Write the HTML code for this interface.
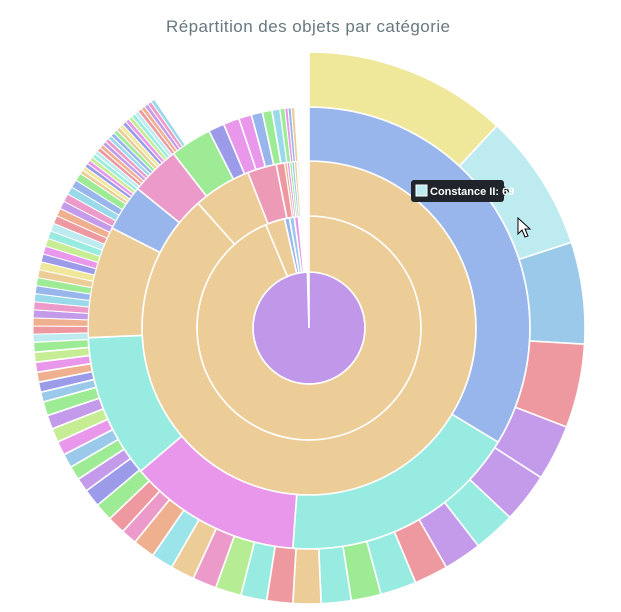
<!DOCTYPE html>
<html><head><meta charset="utf-8">
<style>
body{margin:0;background:#fff;}
svg{display:block;font-family:"Liberation Sans",sans-serif;}
</style></head>
<body>
<svg id="chart" width="621" height="612" viewBox="0 0 621 612">
<text x="308" y="32" text-anchor="middle" font-size="17" fill="#66787f" textLength="284">Répartition des objets par catégorie</text>
<g id="rings"></g>
<g>
<rect x="411" y="180" width="93" height="22" rx="3" fill="#1f252b"/>
<polygon points="504,186 510,191 504,196" fill="#1f252b"/>
<rect x="416" y="185" width="11" height="11" fill="#bdebf0" stroke="#fff" stroke-width="1"/>
<text x="430" y="195" font-size="11" font-weight="bold" fill="#fff">Constance II: 69</text>
</g>
<polygon points="518,218 518,234 522,230 525,237 528,236 525,229 530,229" fill="#fff" stroke="#000" stroke-width="1"/>
</svg>
<script>
const TOTAL = 856;
const ring1Values = [852, 1, 1, 1];
const ring1Colors = ['#c197ea','#9deb94','#98b5ec','#e897ea'];
const ring2Values = [802, 24, 6, 6, 5];
const ring2Colors = ['#eccd98','#eccd98','#98b5ec','#9ac9ea','#e897ea'];
const ring3Values = [757, 48, 24, 7, 2, 2, 2, 2, 2, 1, 1];
const ring3Colors = ['#eccd98','#eccd98','#ec9ab5','#ee99a0','#efb090','#e897ea','#9deb94','#9ac9ea','#eccd98','#efe89a','#c49bea'];
const ring4Values = [288,150,108,90,70,29,31,26,10,10,8,7,6,5,3,2,2,2];
const ring4Colors = ['#98b5ec','#98ebe0','#e897ea','#98ebe0','#eccd98','#98b5ec','#ec9ac9','#9deb94','#9b9bea','#e897ea','#e897ea','#98b5ec','#9deb94','#9ad9ea','#9deb94','#e897ea','#98b5ec','#eccd98'];
const ring5Values = [102,69,51,42,28,25,21,19,17,18,15,15,14,13,13,13,12,12,11,11,8,9,9,9,
 7,7,7,7,7,7,7,5,5,5,5,5,5,
 4,4,4,4,4,4,4,4,4,4,4,4,4,4,4,4,4,4,4,4,4,4,
 2,2,2,2,2,2,2,2,2,2,2,2,2,2,2,2,2,2,2,2,2,2,2,2,2,2];
const palette = ['#9ad9ea','#98b5ec','#9deb94','#eccd98','#efe89a','#9b9bea','#e897ea','#c6ec94','#98ebe0','#bdebf0','#ee99a0','#efb090','#c49bea','#ec9ac9'];
const ring5Colors = ['#efe89a','#bdebf0','#9ac9ea','#ee99a0','#c49bea','#c49bea','#98ebe0','#c49bea','#ee99a0','#98ebe0','#9deb94','#98ebe0','#eccd98','#ee99a0','#98ebe0','#b6ec94','#ec9ac9','#eccd98','#9ae4ea','#efb090','#ec9ac9','#ee99a0','#9deb94','#9b9bea',
 '#c49bea','#9deb94','#9ac9ea','#e897ea','#c6ec94','#c49bea','#9deb94','#9ac9ea','#9b9bea','#efb090','#e897ea','#c6ec94','#9deb94'];
const radii = [[0,56],[56,112],[112,167],[167,221],[221,276]];
const rings = [[ring1Values,ring1Colors],[ring2Values,ring2Colors],[ring3Values,ring3Colors],[ring4Values,ring4Colors],[ring5Values,ring5Colors]];
const CX = 309, CY = 328;
const NS = 'http://www.w3.org/2000/svg';
const g = document.getElementById('rings');
function angle(v){ return v / TOTAL * 2 * Math.PI; }
function pt(r,a){ return [CX + r*Math.sin(a), CY - r*Math.cos(a)]; }
function arcPath(r0,r1,a0,a1){
  const large = (a1-a0) > Math.PI ? 1 : 0;
  const [x1,y1] = pt(r1,a0), [x2,y2] = pt(r1,a1);
  if (r0 === 0){
    return `M${CX},${CY}L${x1},${y1}A${r1},${r1} 0 ${large} 1 ${x2},${y2}Z`;
  }
  const [x3,y3] = pt(r0,a1), [x4,y4] = pt(r0,a0);
  return `M${x1},${y1}A${r1},${r1} 0 ${large} 1 ${x2},${y2}L${x3},${y3}A${r0},${r0} 0 ${large} 0 ${x4},${y4}Z`;
}
rings.forEach((ring, ri) => {
  const vals = ring[0], cols = ring[1];
  let cum = 0;
  vals.forEach((v, i) => {
    const a0 = angle(cum), a1 = angle(cum + v);
    cum += v;
    const p = document.createElementNS(NS, 'path');
    p.setAttribute('d', arcPath(radii[ri][0], radii[ri][1], a0, a1));
    p.setAttribute('fill', cols[i] || palette[i % palette.length]);
    p.setAttribute('stroke', '#fff');
    p.setAttribute('stroke-width', v < 5 ? '1' : '1.6');
    
    
    g.appendChild(p);
  });
});
</script>
</body></html>
